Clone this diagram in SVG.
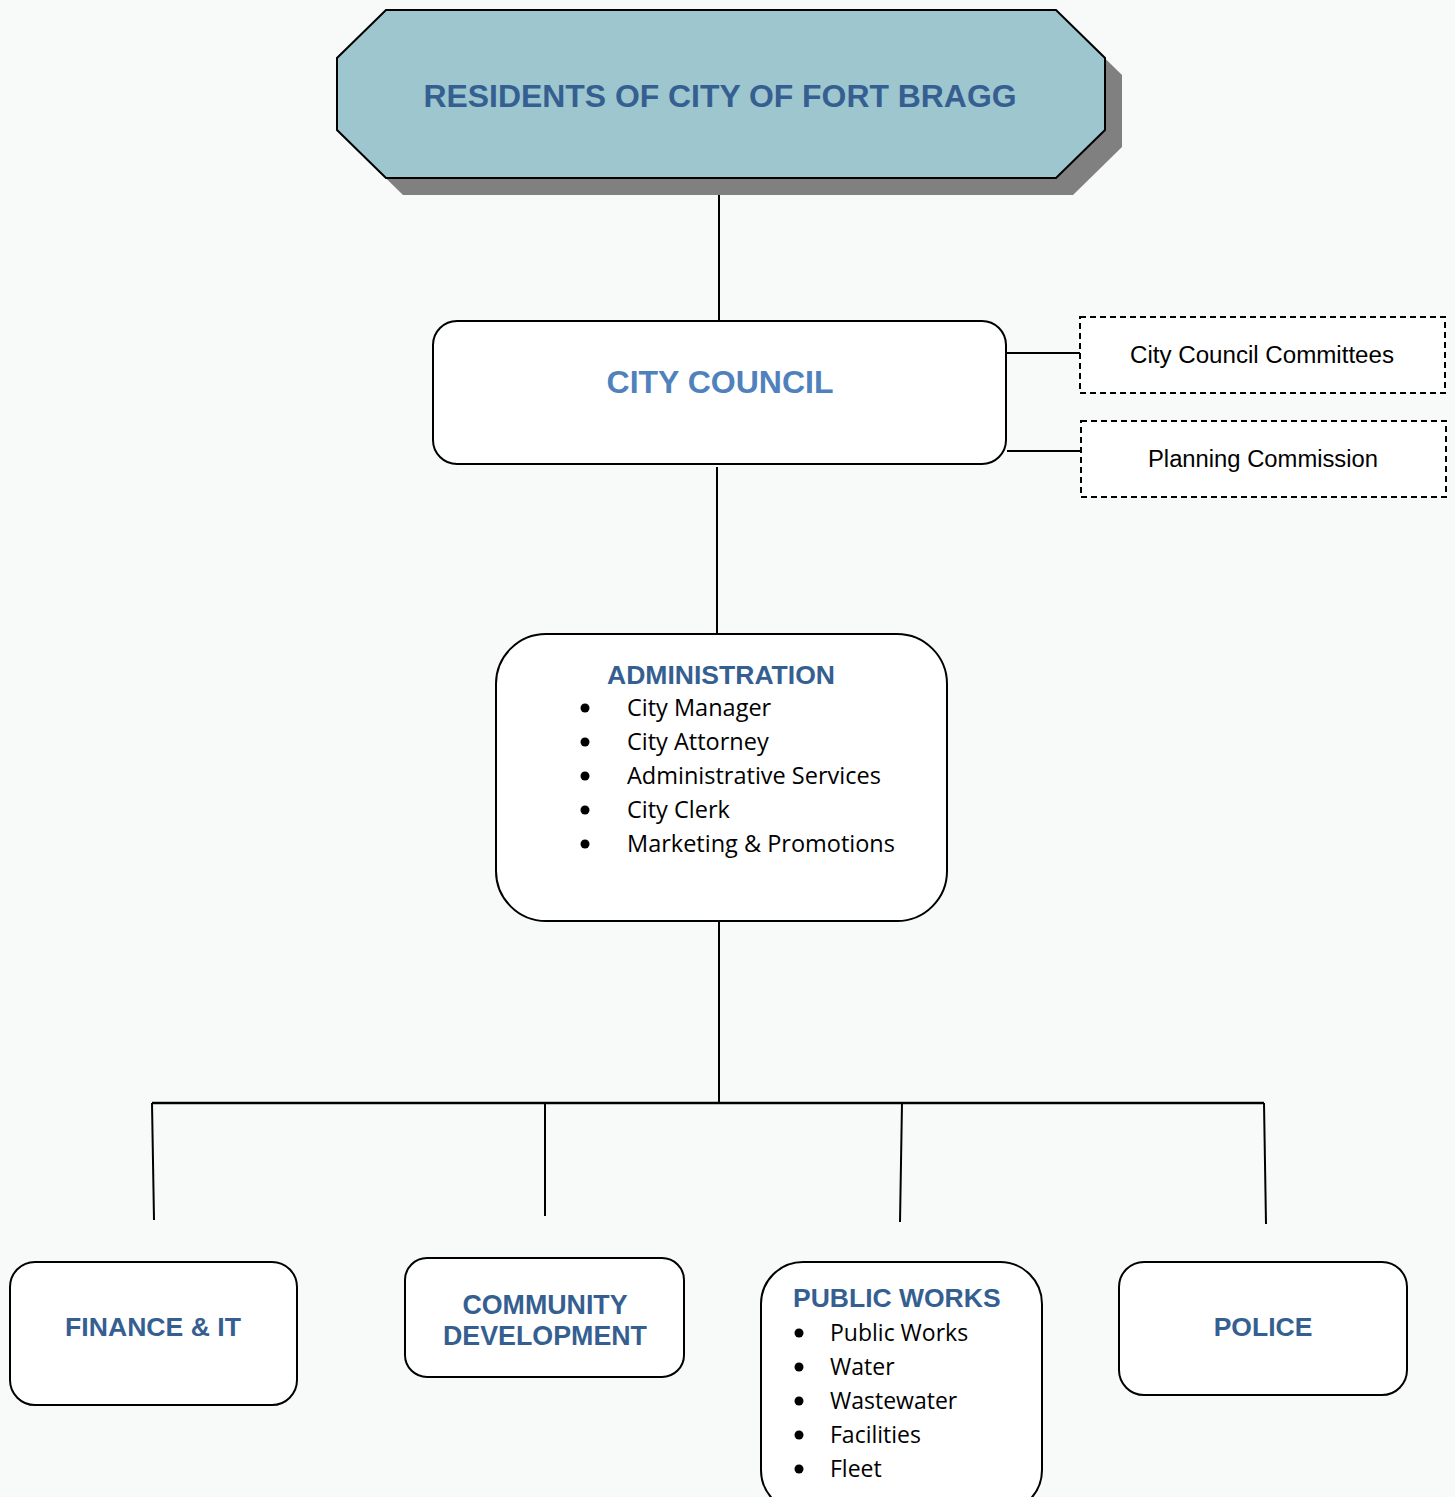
<svg xmlns="http://www.w3.org/2000/svg" width="1455" height="1497" viewBox="0 0 1455 1497">
<style>
.box{fill:#ffffff;stroke:#000;stroke-width:2}
.dash{fill:#ffffff;stroke:#000;stroke-width:2;stroke-dasharray:6,4}
.h{font-family:"Liberation Sans",Arial,sans-serif;font-weight:bold;fill:#365f91}
.t{font-family:"Open Sans","Noto Sans",sans-serif;font-size:23.5px;fill:#000}
.p{font-family:"Open Sans","Noto Sans",sans-serif;font-size:23px;fill:#000}
.c{font-family:"Liberation Sans",Arial,sans-serif;font-size:23px;fill:#000}
.ln{stroke:#000;stroke-width:2;fill:none}
</style>
<rect width="1455" height="1497" fill="#f8fafa"/>
<g id="connectors">
<line class="ln" x1="719" y1="194" x2="719" y2="321"/>
<line class="ln" x1="717" y1="467" x2="717" y2="634"/>
<line class="ln" x1="719" y1="922" x2="719" y2="1103"/>
<line class="ln" x1="1007" y1="353" x2="1080" y2="353"/>
<line class="ln" x1="1007" y1="451" x2="1081" y2="451"/>
<line x1="152" y1="1103" x2="1264" y2="1103" stroke="#000" stroke-width="2.5"/>
<line class="ln" x1="152" y1="1103" x2="154" y2="1220"/>
<line class="ln" x1="545" y1="1103" x2="545" y2="1216"/>
<line class="ln" x1="902" y1="1103" x2="900" y2="1222"/>
<line class="ln" x1="1264" y1="1103" x2="1266" y2="1224"/>
</g>
<g id="residents">
<polygon points="403,27 1073,27 1122,75 1122,147 1073,195 403,195 354,147 354,75" fill="#808080"/>
<polygon points="386,10 1056,10 1105,58 1105,130 1056,178 386,178 337,130 337,58" fill="#9dc6ce" stroke="#000" stroke-width="2"/>
<text class="h" x="720" y="107" font-size="32" text-anchor="middle" textLength="593" lengthAdjust="spacingAndGlyphs">RESIDENTS OF CITY OF FORT BRAGG</text>
</g>
<g id="city-council">
<rect class="box" x="433" y="321" width="573" height="143" rx="24"/>
<text x="720" y="393" font-family="Liberation Sans,Arial,sans-serif" font-weight="bold" font-size="32" fill="#4f81bd" text-anchor="middle">CITY COUNCIL</text>
</g>
<g id="committees">
<rect class="dash" x="1080" y="317" width="365" height="76"/>
<text class="c" x="1262" y="363" text-anchor="middle" textLength="264" lengthAdjust="spacingAndGlyphs">City Council Committees</text>
</g>
<g id="planning">
<rect class="dash" x="1081" y="421" width="365" height="76"/>
<text class="c" x="1263" y="467" text-anchor="middle" textLength="230" lengthAdjust="spacingAndGlyphs">Planning Commission</text>
</g>
<g id="administration">
<rect class="box" x="496" y="634" width="451" height="287" rx="50"/>
<text class="h" x="607" y="684" font-size="25" textLength="228" lengthAdjust="spacingAndGlyphs">ADMINISTRATION</text>
<g fill="#000">
<circle cx="585" cy="708" r="4.5"/><circle cx="585" cy="742" r="4.5"/><circle cx="585" cy="776" r="4.5"/><circle cx="585" cy="810" r="4.5"/><circle cx="585" cy="844" r="4.5"/>
</g>
<text class="t" x="627" y="716">City Manager</text>
<text class="t" x="627" y="750">City Attorney</text>
<text class="t" x="627" y="784">Administrative Services</text>
<text class="t" x="627" y="818">City Clerk</text>
<text class="t" x="627" y="852">Marketing &amp; Promotions</text>
</g>
<g id="finance">
<rect class="box" x="10" y="1262" width="287" height="143" rx="25"/>
<text class="h" x="153" y="1336" font-size="26.6" text-anchor="middle">FINANCE &amp; IT</text>
</g>
<g id="community">
<rect class="box" x="405" y="1258" width="279" height="119" rx="22"/>
<text class="h" x="545" y="1314" font-size="26.8" text-anchor="middle">COMMUNITY</text>
<text class="h" x="545" y="1345" font-size="26.8" text-anchor="middle">DEVELOPMENT</text>
</g>
<g id="public-works">
<rect class="box" x="761" y="1262" width="281" height="250" rx="42"/>
<text class="h" x="793" y="1307" font-size="26.5">PUBLIC WORKS</text>
<g fill="#000">
<circle cx="799" cy="1333" r="4.5"/><circle cx="799" cy="1367" r="4.5"/><circle cx="799" cy="1401" r="4.5"/><circle cx="799" cy="1435" r="4.5"/><circle cx="799" cy="1469" r="4.5"/>
</g>
<text class="p" x="830" y="1341">Public Works</text>
<text class="p" x="830" y="1375">Water</text>
<text class="p" x="830" y="1409">Wastewater</text>
<text class="p" x="830" y="1443">Facilities</text>
<text class="p" x="830" y="1477">Fleet</text>
</g>
<g id="police">
<rect class="box" x="1119" y="1262" width="288" height="133" rx="25"/>
<text class="h" x="1263" y="1336" font-size="26.5" text-anchor="middle">POLICE</text>
</g>
</svg>
